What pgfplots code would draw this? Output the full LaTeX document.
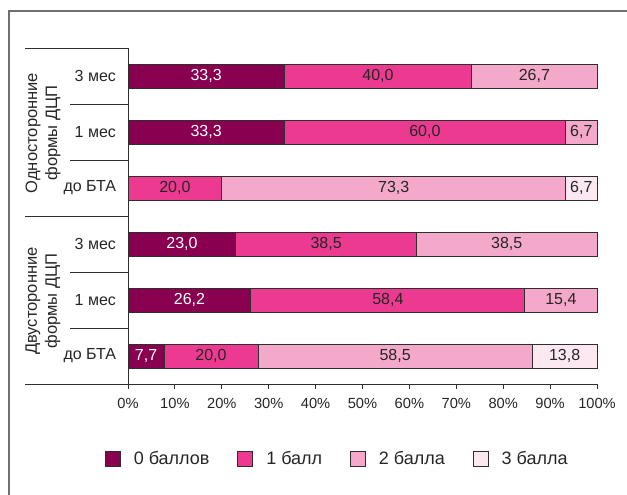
\documentclass[border=0pt]{standalone}
\usepackage{pgfplots}
\pgfplotsset{compat=1.18}
\usepackage{fontspec}
\setmainfont{Liberation Sans}

\definecolor{ball0}{HTML}{8A0050}
\definecolor{ball1}{HTML}{EC3A90}
\definecolor{ball2}{HTML}{F4A9CA}
\definecolor{ball3}{HTML}{FCE8F1}
\definecolor{framegray}{HTML}{707070}
\definecolor{edgegray}{HTML}{2E2E2E}
\definecolor{labelgray}{HTML}{262626}

\begin{document}
\begin{tikzpicture}
\useasboundingbox (0,0) rectangle (470.25pt,-370.5pt);
% frame and row separators, in pixel units (y downwards)
\begin{scope}[x=0.75pt,y=-0.75pt]
  \draw[framegray, line width=1.6pt] (9,500) -- (9,11) -- (640,11);
  \draw[edgegray, line width=0.7pt] (25,48) -- (128,48);
  \draw[edgegray, line width=0.7pt] (70,104) -- (128,104);
  \draw[edgegray, line width=0.7pt] (70,160) -- (128,160);
  \draw[edgegray, line width=0.7pt] (25,216) -- (128,216);
  \draw[edgegray, line width=0.7pt] (70,272) -- (128,272);
  \draw[edgegray, line width=0.7pt] (70,328) -- (128,328);
  \draw[edgegray, line width=0.7pt] (25,384) -- (128,384);
  \node[rotate=90, align=center, text=labelgray, font=\fontsize{12.4}{15}\selectfont]
    at (43,133) {Односторонние\\формы ДЦП};
  \node[rotate=90, align=center, text=labelgray, font=\fontsize{12.4}{15}\selectfont]
    at (43,301) {Двусторонние\\формы ДЦП};
\end{scope}

\begin{axis}[
  at={(96pt,-288pt)}, anchor=south west,
  scale only axis, width=351.75pt, height=252pt,
  xbar stacked, bar width=18pt,
  xmin=0, xmax=100, ymin=-0.5, ymax=5.5,
  axis x line=bottom, axis y line=left,
  axis line style={-, edgegray, line width=0.7pt},
  xtick={0,10,...,100},
  tick align=outside, major tick length=3.5pt,
  xtick style={edgegray, line width=0.7pt},
  ytick={0,...,5},
  yticklabels={до БТА,1 мес,3 мес,до БТА,1 мес,3 мес},
  ytick style={draw=none},
  yticklabel style={font=\fontsize{12}{14}\selectfont, text=labelgray, xshift=-2pt},
  xticklabel style={font=\fontsize{11}{13}\selectfont, text=labelgray, yshift=-4pt},
  /pgf/number format/assume math mode=true,
  /pgf/number format/.cd, fixed, fixed zerofill, precision=1, use comma, /pgfplots/.cd,
  xticklabel={\pgfmathprintnumber[fixed, precision=0]{\tick}\%},
  every axis plot/.append style={draw=edgegray, line width=0.6pt},
  point meta=rawx,
  nodes near coords={\pgfmathfloatifflags{\pgfplotspointmeta}{0}{}{\pgfmathprintnumber{\pgfplotspointmeta}}},
  every node near coord/.append style={anchor=center, text=labelgray,
    font=\fontsize{12}{14}\selectfont},
  legend image code/.code={\draw[#1, draw=edgegray, line width=0.6pt] (0pt,-5.5pt) rectangle (11pt,5.5pt);},
  legend style={at={(0.447,-0.223)}, anchor=center, draw=none, fill=none,
    legend columns=4, font=\fontsize{13.5}{16}\selectfont, text=labelgray,
    /tikz/every odd column/.append style={column sep=8pt},
    /tikz/every even column/.append style={column sep=19pt}},
  clip=false,
]
% rows from bottom: Двусторонние (до БТА, 1 мес, 3 мес), Односторонние (до БТА, 1 мес, 3 мес)
\addplot[fill=ball0, every node near coord/.append style={text=white}] coordinates
  {(7.7,0) (26.2,1) (23.0,2) (0,3) (33.3,4) (33.3,5)};
\addplot[fill=ball1] coordinates
  {(20.0,0) (58.4,1) (38.5,2) (20.0,3) (60.0,4) (40.0,5)};
\addplot[fill=ball2] coordinates
  {(58.5,0) (15.4,1) (38.5,2) (73.3,3) (6.7,4) (26.7,5)};
\addplot[fill=ball3] coordinates
  {(13.8,0) (0,1) (0,2) (6.7,3) (0,4) (0,5)};
\legend{0 баллов, 1 балл, 2 балла, 3 балла}
\end{axis}
\end{tikzpicture}
\end{document}
